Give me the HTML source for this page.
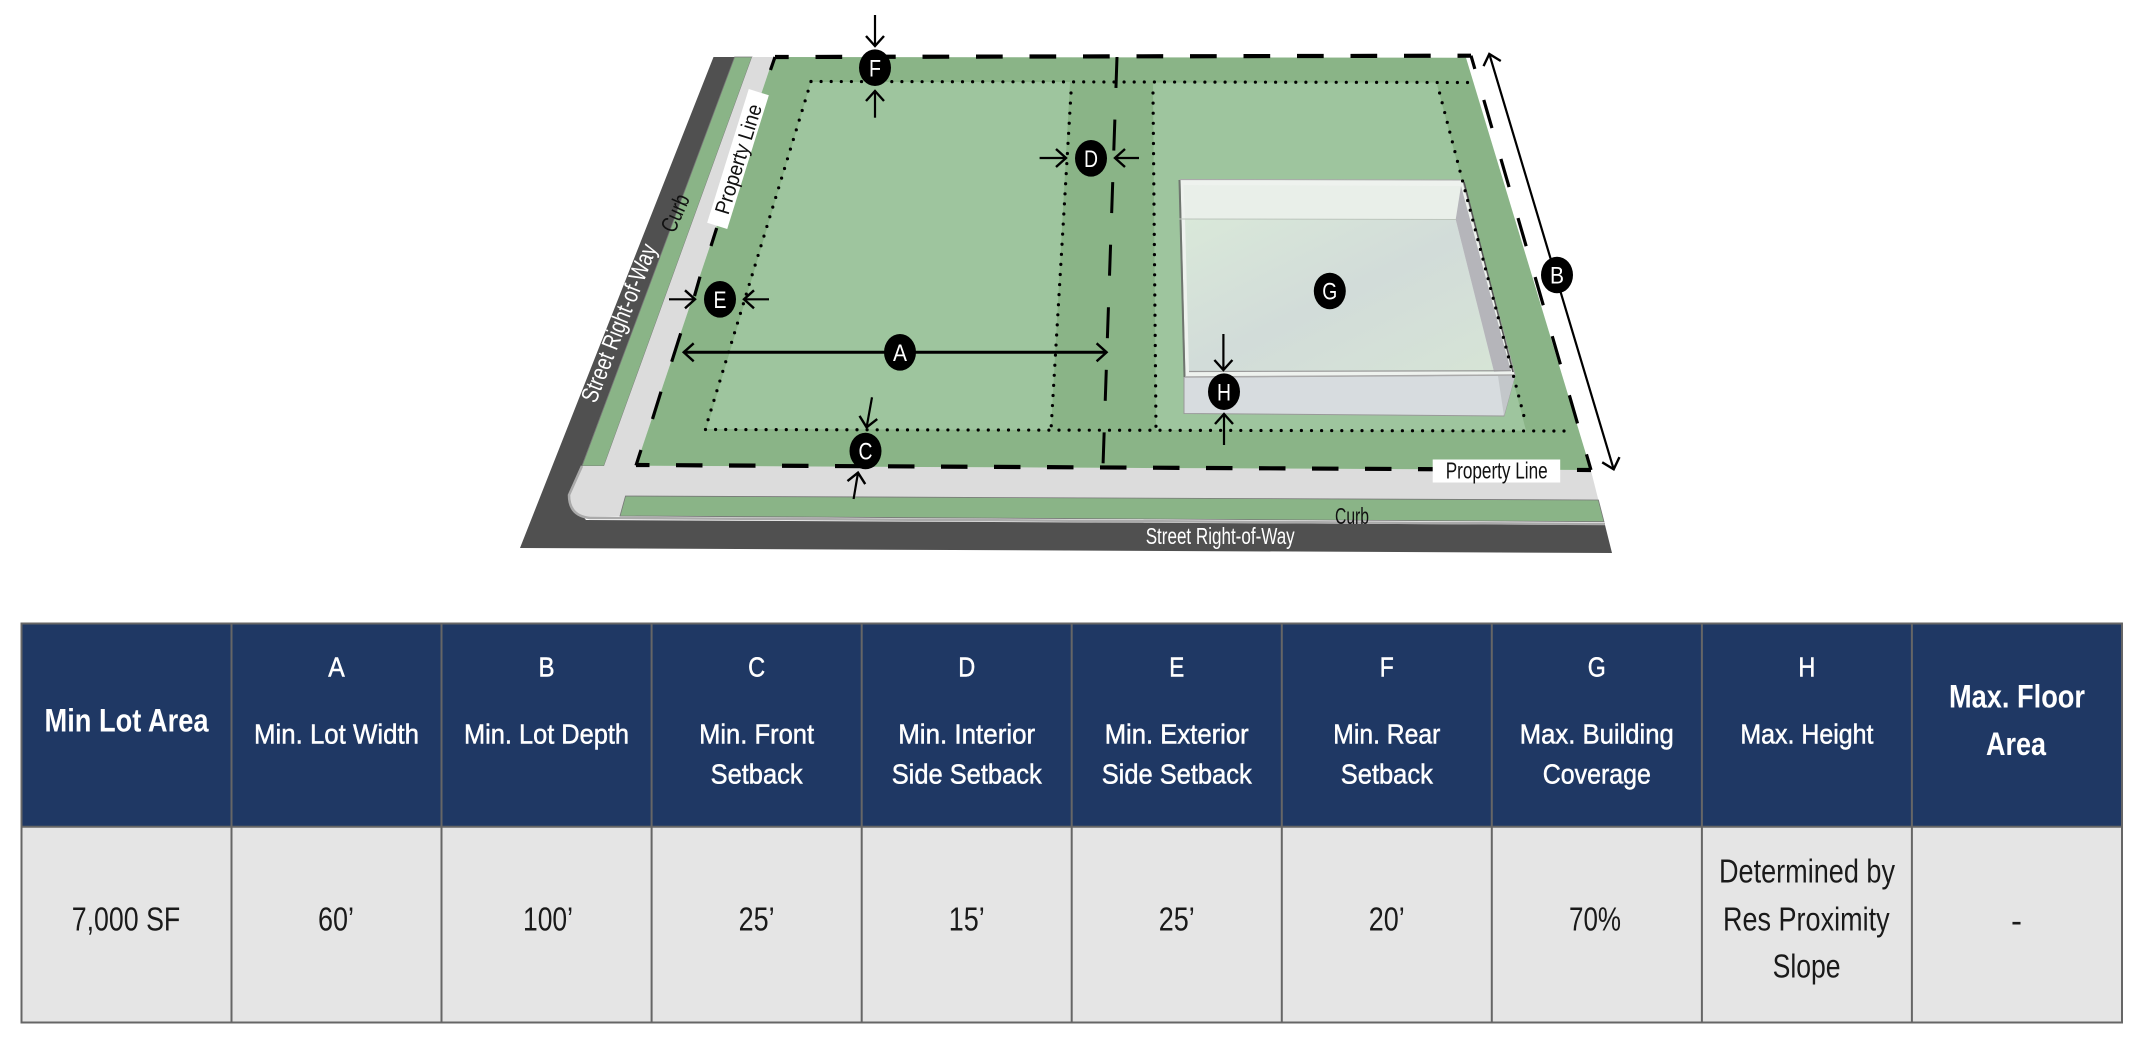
<!DOCTYPE html>
<html><head><meta charset="utf-8"><style>html,body{margin:0;padding:0;background:#fff;width:2145px;height:1039px;overflow:hidden}svg{display:block}text{font-family:"Liberation Sans",sans-serif}</style></head>
<body>
<svg width="2145" height="1039" viewBox="0 0 2145 1039" xmlns="http://www.w3.org/2000/svg">
<defs>
<marker id="h" markerUnits="userSpaceOnUse" markerWidth="28" markerHeight="28" refX="14" refY="14" orient="auto-start-reverse"><path d="M4,5 L14,14 L4,23" fill="none" stroke="#000" stroke-width="2.4"/></marker>
<linearGradient id="roof" x1="0" y1="0" x2="1" y2="1"><stop offset="0" stop-color="#d9e8d9"/><stop offset=".5" stop-color="#d2dcd9"/><stop offset="1" stop-color="#d6e4d6"/></linearGradient>
</defs>

<!-- streets and lot -->
<polygon points="713.5,57 735,57 569,500 586,520 1605,525 1612,553 520,548" fill="#505050"/>
<polygon points="734.6,57 752,57 604,466 582,466" fill="#8ab487" stroke="#777" stroke-width=".8"/>
<path d="M752,57 L773.6,57 L636,465.7 L1590.8,470 L1598.4,500 L625.5,496 L620,516 L590,517 Q569,515 569,495 L582,466 L604,466 Z" fill="#dcdcdc"/>
<path d="M582,466 L569,495 Q569,516 590,518 L620,518 L1605,524" fill="none" stroke="#aaa" stroke-width="2.5"/>
<polygon points="625.5,496 1598.4,500 1604,521.7 620,516" fill="#8ab487" stroke="#777" stroke-width=".8"/>
<polygon points="773.6,57 1466,57.7 1590.8,470 636,465.7" fill="#8ab487"/>
<polygon points="811,82 1070,82 1051,430 706.6,429" fill="#9ec59e"/>
<polygon points="1153,82.5 1436.5,82.5 1526,430.7 1156,430" fill="#9ec59e"/>

<!-- building -->
<polygon points="1184,377 1515,375 1504,416 1184,413.5" fill="#d7dcdf" stroke="#999" stroke-width="1"/>
<polygon points="1498,376 1515,376 1504,416" fill="#c3c7ca"/>
<polygon points="1180,179.5 1462.5,180 1515,375 1185,377" fill="#eef2ee" stroke="#aaa" stroke-width="1"/>
<polygon points="1183.5,185 1461,186 1455.7,219.5 1185,218.5" fill="#e9efe9"/>
<polygon points="1185,218.5 1455.7,219.5 1494,371.7 1189,371" fill="url(#roof)"/>
<polygon points="1461,186 1455.7,219.5 1494,371.7 1511,371" fill="#b5b5ba"/>
<line x1="1179.5" y1="180" x2="1184.5" y2="377" stroke="#6f766f" stroke-width="2"/>
<line x1="1179" y1="219" x2="1456" y2="219.5" stroke="#bcc5bc" stroke-width="1"/>
<line x1="1189" y1="371.5" x2="1511" y2="370.7" stroke="#999" stroke-width="1.2"/>
<line x1="1185" y1="377" x2="1515" y2="375" stroke="#aaa" stroke-width="1.5"/>
<line x1="1464" y1="182" x2="1513" y2="372" stroke="#555" stroke-width="1.5"/>

<!-- setback dots -->
<g fill="none" stroke="#000" stroke-width="3.2" stroke-linecap="round" stroke-dasharray="0 10.1">
<line x1="811" y1="81.5" x2="1475.5" y2="82.5"/>
<line x1="705.5" y1="429.5" x2="1572" y2="431"/>
<line x1="811" y1="81.5" x2="708" y2="420"/>
<line x1="1071" y1="93" x2="1051" y2="430"/>
<line x1="1153" y1="93" x2="1156" y2="430"/>
<line x1="1439.6" y1="93" x2="1526" y2="424"/>
</g>

<!-- property dashes -->
<g fill="none" stroke="#000">
<line x1="775" y1="57" x2="1471" y2="55.7" stroke-width="4.2" stroke-dasharray="26.7 26.8" stroke-dashoffset="13"/>
<line x1="636" y1="465" x2="1591" y2="470" stroke-width="4.2" stroke-dasharray="26.5 26.5" stroke-dashoffset="13"/>
<line x1="1471" y1="55.7" x2="1591" y2="470" stroke-width="3.2" stroke-dasharray="29.3 32.2" stroke-dashoffset="15.5"/>
<line x1="1117" y1="57" x2="1103" y2="466" stroke-width="3" stroke-dasharray="31 31.6"/>
<g stroke-width="3.2">
<line x1="775" y1="57" x2="770.5" y2="70"/>
<line x1="716.7" y1="228" x2="711" y2="246"/>
<line x1="700" y1="276.7" x2="694.5" y2="296"/>
<line x1="680.7" y1="333.3" x2="671.7" y2="361.7"/>
<line x1="661" y1="391.7" x2="652.5" y2="419"/>
<line x1="641" y1="450" x2="636" y2="465.5"/>
</g>
</g>

<!-- labels -->
<g transform="translate(738,159) rotate(-72.7)"><rect x="-70" y="-10.5" width="140" height="21" fill="#fff"/><text x="0" y="7.5" font-size="21" text-anchor="middle" textLength="114" lengthAdjust="spacingAndGlyphs" fill="#111">Property Line</text></g>
<text transform="translate(675,213) rotate(-66)" x="0" y="8" font-size="23" text-anchor="middle" textLength="39" lengthAdjust="spacingAndGlyphs" fill="#111">Curb</text>
<text transform="translate(619,323) rotate(-68.5)" x="0" y="8" font-size="24" text-anchor="middle" textLength="168" lengthAdjust="spacingAndGlyphs" fill="#fff">Street Right-of-Way</text>
<rect x="1432.7" y="459.5" width="127.5" height="23" fill="#fff"/>
<text x="1445.7" y="478.5" font-size="23" textLength="102" lengthAdjust="spacingAndGlyphs" fill="#111">Property Line</text>
<text x="1335" y="524" font-size="23" textLength="34" lengthAdjust="spacingAndGlyphs" fill="#111">Curb</text>
<text x="1145.7" y="544" font-size="23" textLength="149" lengthAdjust="spacingAndGlyphs" fill="#fff">Street Right-of-Way</text>

<!-- arrows -->
<g fill="none" stroke="#000" stroke-width="2.2">
<line x1="875" y1="15" x2="875" y2="46" marker-end="url(#h)"/>
<line x1="875" y1="117.7" x2="875" y2="91" marker-end="url(#h)"/>
<line x1="1039.6" y1="158" x2="1066" y2="158" marker-end="url(#h)"/>
<line x1="1139" y1="158" x2="1115" y2="158" marker-end="url(#h)"/>
<line x1="669" y1="299.3" x2="695" y2="299.3" marker-end="url(#h)"/>
<line x1="769" y1="299.3" x2="744" y2="299.3" marker-end="url(#h)"/>
<line x1="683.7" y1="352.3" x2="1106.6" y2="352.3" stroke-width="3" marker-start="url(#h)" marker-end="url(#h)"/>
<line x1="872" y1="397.3" x2="866.6" y2="427.3" marker-end="url(#h)"/>
<line x1="853.6" y1="499" x2="858" y2="472.7" marker-end="url(#h)"/>
<line x1="1489.3" y1="54" x2="1613.7" y2="469.3" marker-start="url(#h)" marker-end="url(#h)"/>
<line x1="1223.4" y1="334" x2="1223.4" y2="370" marker-end="url(#h)"/>
<line x1="1224" y1="445" x2="1224" y2="414" marker-end="url(#h)"/>
</g>

<!-- badges -->
<g fill="#000">
<ellipse cx="900" cy="352.3" rx="16" ry="18.3"/>
<ellipse cx="1557" cy="275" rx="16" ry="18.3"/>
<ellipse cx="865.5" cy="451" rx="16" ry="18.3"/>
<ellipse cx="1091" cy="158.3" rx="16" ry="18.3"/>
<ellipse cx="720" cy="299.3" rx="16" ry="18.3"/>
<ellipse cx="875" cy="67.7" rx="16" ry="18.3"/>
<ellipse cx="1329.8" cy="291" rx="16" ry="18.3"/>
<ellipse cx="1224" cy="391.7" rx="16" ry="18.3"/>
</g>
<g fill="#fff" font-size="24" text-anchor="middle">
<text x="900" y="361" textLength="14" lengthAdjust="spacingAndGlyphs">A</text>
<text x="1557" y="283.7" textLength="14" lengthAdjust="spacingAndGlyphs">B</text>
<text x="865.5" y="459.7" textLength="14" lengthAdjust="spacingAndGlyphs">C</text>
<text x="1091" y="167" textLength="14" lengthAdjust="spacingAndGlyphs">D</text>
<text x="720" y="308" textLength="13" lengthAdjust="spacingAndGlyphs">E</text>
<text x="875" y="76.4" textLength="12" lengthAdjust="spacingAndGlyphs">F</text>
<text x="1329.8" y="299.7" textLength="15" lengthAdjust="spacingAndGlyphs">G</text>
<text x="1224" y="400.4" textLength="14" lengthAdjust="spacingAndGlyphs">H</text>
</g>

<!-- table -->
<rect x="21.5" y="623.5" width="2100.5" height="203" fill="#1f3864"/>
<rect x="21.5" y="826.5" width="2100.5" height="196" fill="#e5e5e5"/>
<g stroke="#666" stroke-width="2" fill="none">
<rect x="21.5" y="623.5" width="2100.5" height="399"/>
<line x1="21.5" y1="826.7" x2="2122" y2="826.7"/>
<line x1="231.5" y1="623.5" x2="231.5" y2="1022.5"/>
<line x1="441.5" y1="623.5" x2="441.5" y2="1022.5"/>
<line x1="651.6" y1="623.5" x2="651.6" y2="1022.5"/>
<line x1="861.7" y1="623.5" x2="861.7" y2="1022.5"/>
<line x1="1071.7" y1="623.5" x2="1071.7" y2="1022.5"/>
<line x1="1281.8" y1="623.5" x2="1281.8" y2="1022.5"/>
<line x1="1491.8" y1="623.5" x2="1491.8" y2="1022.5"/>
<line x1="1701.9" y1="623.5" x2="1701.9" y2="1022.5"/>
<line x1="1911.9" y1="623.5" x2="1911.9" y2="1022.5"/>
</g>
<g fill="#fff" font-size="28" text-anchor="middle" stroke="#fff" stroke-width=".5">
<text x="336.5" y="676.7" textLength="16.5" lengthAdjust="spacingAndGlyphs">A</text><text x="546.5" y="676.7" textLength="16" lengthAdjust="spacingAndGlyphs">B</text><text x="756.6" y="676.7" textLength="17" lengthAdjust="spacingAndGlyphs">C</text><text x="966.7" y="676.7" textLength="17" lengthAdjust="spacingAndGlyphs">D</text><text x="1176.7" y="676.7" textLength="15" lengthAdjust="spacingAndGlyphs">E</text><text x="1386.8" y="676.7" textLength="14" lengthAdjust="spacingAndGlyphs">F</text><text x="1596.8" y="676.7" textLength="18" lengthAdjust="spacingAndGlyphs">G</text><text x="1806.9" y="676.7" textLength="17" lengthAdjust="spacingAndGlyphs">H</text>
<text x="336.5" y="743.3" textLength="165" lengthAdjust="spacingAndGlyphs">Min. Lot Width</text>
<text x="546.5" y="743.3" textLength="165" lengthAdjust="spacingAndGlyphs">Min. Lot Depth</text>
<text x="756.6" y="743.3" textLength="115" lengthAdjust="spacingAndGlyphs">Min. Front</text>
<text x="756.6" y="783.3" textLength="92" lengthAdjust="spacingAndGlyphs">Setback</text>
<text x="966.7" y="743.3" textLength="137" lengthAdjust="spacingAndGlyphs">Min. Interior</text>
<text x="966.7" y="783.3" textLength="150" lengthAdjust="spacingAndGlyphs">Side Setback</text>
<text x="1176.7" y="743.3" textLength="144" lengthAdjust="spacingAndGlyphs">Min. Exterior</text>
<text x="1176.7" y="783.3" textLength="150" lengthAdjust="spacingAndGlyphs">Side Setback</text>
<text x="1386.8" y="743.3" textLength="107" lengthAdjust="spacingAndGlyphs">Min. Rear</text>
<text x="1386.8" y="783.3" textLength="92" lengthAdjust="spacingAndGlyphs">Setback</text>
<text x="1596.8" y="743.3" textLength="154" lengthAdjust="spacingAndGlyphs">Max. Building</text>
<text x="1596.8" y="783.3" textLength="108" lengthAdjust="spacingAndGlyphs">Coverage</text>
<text x="1806.9" y="743.3" textLength="133" lengthAdjust="spacingAndGlyphs">Max. Height</text>
</g>
<g fill="#fff" font-size="32" font-weight="bold" text-anchor="middle">
<text x="126.5" y="731.7" textLength="164" lengthAdjust="spacingAndGlyphs">Min Lot Area</text>
<text x="2017" y="707.7" textLength="136" lengthAdjust="spacingAndGlyphs">Max. Floor</text>
<text x="2016" y="755" textLength="60" lengthAdjust="spacingAndGlyphs">Area</text>
</g>
<g fill="#1a1a1a" font-size="33" text-anchor="middle">
<text x="126" y="930.7" textLength="108.5" lengthAdjust="spacingAndGlyphs">7,000 SF</text>
<text x="336" y="930.7" textLength="36" lengthAdjust="spacingAndGlyphs">60’</text>
<text x="548" y="930.7" textLength="50" lengthAdjust="spacingAndGlyphs">100’</text>
<text x="756.6" y="930.7" textLength="36" lengthAdjust="spacingAndGlyphs">25’</text>
<text x="966.7" y="930.7" textLength="36" lengthAdjust="spacingAndGlyphs">15’</text>
<text x="1176.7" y="930.7" textLength="36" lengthAdjust="spacingAndGlyphs">25’</text>
<text x="1386.8" y="930.7" textLength="36" lengthAdjust="spacingAndGlyphs">20’</text>
<text x="1595" y="930.7" textLength="52" lengthAdjust="spacingAndGlyphs">70%</text>
<text x="1807" y="882.7" textLength="176" lengthAdjust="spacingAndGlyphs">Determined by</text>
<text x="1806.3" y="930.7" textLength="166.6" lengthAdjust="spacingAndGlyphs">Res Proximity</text>
<text x="1806.6" y="977.7" textLength="68" lengthAdjust="spacingAndGlyphs">Slope</text>
<text x="2016.5" y="932">-</text>
</g>
</svg>
</body></html>
